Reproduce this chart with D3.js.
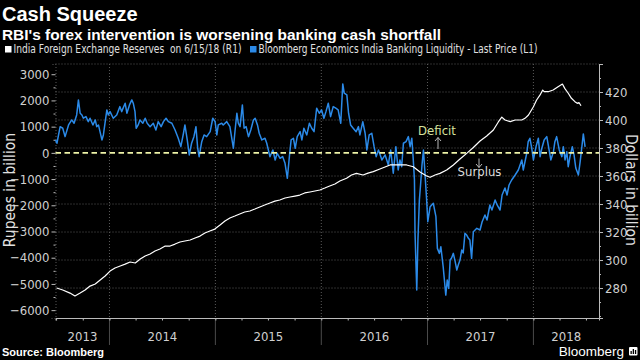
<!DOCTYPE html>
<html>
<head>
<meta charset="utf-8">
<script src="https://cdn.jsdelivr.net/npm/d3@7"></script>
<style>
  body { margin: 0; background: #000; }
  svg { display: block; }
</style>
</head>
<body>
<div id="chart"></div>
<script>

// India foreign exchange reserves, USD bn (right axis)
var reserves = [
  ["2013-07-03", 280.0], ["2013-07-24", 278.6], ["2013-08-18", 276.4], ["2013-09-04", 274.3],
  ["2013-09-22", 276.4], ["2013-10-09", 278.6], ["2013-10-26", 281.4], ["2013-11-13", 282.9],
  ["2013-11-30", 285.7], ["2013-12-17", 288.6], ["2014-01-03", 292.1], ["2014-01-20", 294.3],
  ["2014-02-07", 295.7], ["2014-02-24", 297.1], ["2014-03-13", 298.6], ["2014-03-31", 297.9],
  ["2014-04-17", 300.7], ["2014-05-04", 302.9], ["2014-05-21", 304.3], ["2014-06-07", 306.4],
  ["2014-06-24", 307.9], ["2014-07-12", 310.0], ["2014-07-29", 310.0], ["2014-08-15", 311.4],
  ["2014-09-01", 312.9], ["2014-09-18", 313.6], ["2014-10-06", 314.3], ["2014-10-23", 315.7],
  ["2014-11-09", 317.1], ["2014-11-26", 319.3], ["2014-12-13", 320.7], ["2014-12-30", 322.1],
  ["2015-01-17", 325.0], ["2015-02-03", 327.9], ["2015-02-20", 330.0], ["2015-03-09", 331.4],
  ["2015-03-26", 332.9], ["2015-04-12", 334.3], ["2015-04-30", 335.0], ["2015-05-17", 336.4],
  ["2015-06-03", 337.9], ["2015-06-20", 339.3], ["2015-07-08", 340.7], ["2015-07-25", 342.1],
  ["2015-08-11", 342.9], ["2015-08-29", 344.3], ["2015-09-15", 345.0], ["2015-10-02", 345.7],
  ["2015-10-19", 346.4], ["2015-11-05", 347.9], ["2015-11-23", 348.6], ["2015-12-10", 349.3],
  ["2015-12-27", 350.0], ["2016-01-13", 351.4], ["2016-01-30", 352.9], ["2016-02-17", 354.3],
  ["2016-03-05", 356.4], ["2016-03-28", 358.4], ["2016-04-14", 360.7], ["2016-05-01", 361.9],
  ["2016-05-24", 360.7], ["2016-06-10", 362.1], ["2016-06-28", 363.1], ["2016-07-21", 365.0],
  ["2016-08-25", 367.9], ["2016-09-28", 367.9], ["2016-10-21", 367.9], ["2016-11-13", 366.6],
  ["2016-12-06", 362.9], ["2016-12-29", 360.0], ["2017-01-10", 359.1], ["2017-01-27", 360.7],
  ["2017-02-13", 361.9], ["2017-03-08", 364.3], ["2017-03-31", 367.9], ["2017-04-23", 372.1],
  ["2017-05-16", 376.2], ["2017-06-08", 380.4], ["2017-07-01", 385.0], ["2017-07-24", 388.6],
  ["2017-08-16", 392.9], ["2017-09-02", 398.6], ["2017-09-14", 402.1], ["2017-09-25", 400.0],
  ["2017-10-13", 398.8], ["2017-10-30", 400.0], ["2017-11-22", 400.0], ["2017-12-03", 401.2],
  ["2017-12-15", 403.6], ["2018-01-01", 409.5], ["2018-01-12", 414.3], ["2018-01-24", 417.9],
  ["2018-02-02", 421.4], ["2018-02-07", 420.2], ["2018-02-21", 420.2], ["2018-03-10", 421.4],
  ["2018-03-27", 423.8], ["2018-04-11", 425.7], ["2018-04-19", 422.6], ["2018-05-01", 419.1],
  ["2018-05-12", 415.5], ["2018-05-24", 413.1], ["2018-06-01", 411.9], ["2018-06-07", 412.5],
  ["2018-06-14", 410.2]
];

// Bloomberg Economics India banking liquidity, INR bn (left axis)
var liquidity = [
  ["2013-06-29", 490], ["2013-07-04", 367], ["2013-07-15", 1000], ["2013-07-24", 939],
  ["2013-08-01", 619], ["2013-08-13", 1065], ["2013-08-24", 1256], ["2013-09-01", 1130],
  ["2013-09-10", 1447], ["2013-09-16", 2020], ["2013-09-22", 1512], ["2013-09-28", 1447],
  ["2013-10-03", 1321], ["2013-10-12", 1382], ["2013-10-20", 1191], ["2013-10-26", 1321],
  ["2013-11-05", 1065], ["2013-11-13", 1256], ["2013-11-18", 1000], ["2013-11-24", 1065],
  ["2013-12-06", 493], ["2013-12-11", 683], ["2013-12-23", 1638], ["2013-12-28", 1447],
  ["2014-01-03", 1573], ["2014-01-14", 1321], ["2014-01-26", 1447], ["2014-02-06", 1764],
  ["2014-02-12", 1573], ["2014-02-24", 1894], ["2014-03-02", 1512], ["2014-03-11", 1829],
  ["2014-03-19", 2020], ["2014-03-24", 1894], ["2014-03-30", 1573], ["2014-04-03", 939],
  ["2014-04-10", 1065], ["2014-04-16", 1256], ["2014-04-26", 1130], ["2014-05-04", 1321],
  ["2014-05-11", 1130], ["2014-05-21", 1000], ["2014-06-01", 1130], ["2014-06-10", 874],
  ["2014-06-18", 1191], ["2014-06-28", 1000], ["2014-07-06", 1191], ["2014-07-15", 1321],
  ["2014-07-23", 1191], ["2014-08-04", 1130], ["2014-08-15", 874], ["2014-08-26", 557],
  ["2014-09-04", 237], ["2014-09-13", 748], ["2014-09-18", 1065], ["2014-09-26", 493],
  ["2014-10-03", -80], ["2014-10-11", 367], ["2014-10-19", 619], ["2014-10-26", 1000],
  ["2014-11-01", 176], ["2014-11-06", -145], ["2014-11-15", 428], ["2014-11-23", 683],
  ["2014-12-02", 619], ["2014-12-14", 809], ["2014-12-23", 1321], ["2014-12-31", 1191],
  ["2015-01-06", 683], ["2015-01-11", 1065], ["2015-01-23", 1130], ["2015-01-28", 1065],
  ["2015-02-09", 1191], ["2015-02-20", 1000], ["2015-03-04", 176], ["2015-03-10", 874],
  ["2015-03-16", 1512], ["2015-03-21", 1130], ["2015-03-27", 1000], ["2015-04-04", 1829],
  ["2015-04-10", 939], ["2015-04-17", 1000], ["2015-04-25", 619], ["2015-05-03", 874],
  ["2015-05-12", 1256], ["2015-05-18", 1321], ["2015-05-26", 1065], ["2015-06-01", 748],
  ["2015-06-10", 493], ["2015-06-21", 557], ["2015-06-27", 367], ["2015-07-08", -145],
  ["2015-07-18", 111], ["2015-07-26", -271], ["2015-08-02", -15], ["2015-08-12", -206],
  ["2015-08-21", -145], ["2015-08-29", -397], ["2015-09-06", -970], ["2015-09-13", -145],
  ["2015-09-19", 493], ["2015-09-27", 557], ["2015-10-03", 176], ["2015-10-10", 619],
  ["2015-10-20", 809], ["2015-10-26", 493], ["2015-11-02", 939], ["2015-11-12", 683],
  ["2015-11-21", 1130], ["2015-11-29", 939], ["2015-12-07", 809], ["2015-12-16", 1703],
  ["2015-12-25", 1512], ["2016-01-02", 1638], ["2016-01-10", 1321], ["2016-01-17", 1573],
  ["2016-01-25", 1894], ["2016-02-02", 1382], ["2016-02-11", 1764], ["2016-02-20", 1703],
  ["2016-02-28", 1638], ["2016-03-08", 1130], ["2016-03-15", 2631], ["2016-03-20", 2276],
  ["2016-03-29", 2211], ["2016-04-04", 1512], ["2016-04-11", 1065], ["2016-04-20", 939],
  ["2016-04-30", 809], ["2016-05-08", 1000], ["2016-05-13", 683], ["2016-05-23", 1191],
  ["2016-05-31", 748], ["2016-06-06", 111], ["2016-06-14", 683], ["2016-06-23", 748],
  ["2016-07-01", 237], ["2016-07-08", -145], ["2016-07-16", 111], ["2016-07-28", -271],
  ["2016-08-08", -80], ["2016-08-19", -462], ["2016-08-27", 111], ["2016-09-05", -779],
  ["2016-09-14", 237], ["2016-09-22", -653], ["2016-09-28", -271], ["2016-10-04", -527],
  ["2016-10-10", 367], ["2016-10-19", 428], ["2016-10-27", 619], ["2016-11-02", 237],
  ["2016-11-08", 557], ["2016-11-13", -271], ["2016-11-17", -1035], ["2016-11-19", -3058],
  ["2016-11-25", -5235], ["2016-11-29", -3326], ["2016-12-04", -1798], ["2016-12-08", -1226],
  ["2016-12-13", -462], ["2016-12-18", 111], ["2016-12-23", -729], ["2016-12-29", -1798],
  ["2017-01-02", -2627], ["2017-01-10", -2054], ["2017-01-21", -1924], ["2017-01-30", -2436],
  ["2017-02-04", -3643], ["2017-02-11", -3834], ["2017-02-16", -3582], ["2017-02-24", -4345],
  ["2017-03-05", -5426], ["2017-03-10", -4853], ["2017-03-15", -5170], ["2017-03-20", -4089],
  ["2017-03-25", -4013], ["2017-03-31", -3834], ["2017-04-06", -4128], ["2017-04-12", -4471],
  ["2017-04-17", -4280], ["2017-04-23", -4089], ["2017-04-29", -3708], ["2017-05-04", -3822],
  ["2017-05-10", -3070], ["2017-05-16", -3135], ["2017-05-22", -3261], ["2017-05-27", -3326],
  ["2017-06-02", -4025], ["2017-06-08", -3009], ["2017-06-20", -2879], ["2017-07-01", -2944],
  ["2017-07-08", -2638], ["2017-07-18", -2371], ["2017-07-25", -2562], ["2017-08-04", -1989],
  ["2017-08-11", -2180], ["2017-08-22", -1798], ["2017-08-29", -1989], ["2017-09-08", -2180],
  ["2017-09-15", -1607], ["2017-09-25", -1340], ["2017-10-02", -1607], ["2017-10-09", -1226],
  ["2017-10-18", -1035], ["2017-10-30", -844], ["2017-11-10", -653], ["2017-11-22", -271],
  ["2017-11-27", -653], ["2017-12-09", -15], ["2017-12-14", 428], ["2017-12-20", 557],
  ["2017-12-26", 187], ["2018-01-01", -271], ["2018-01-10", 237], ["2018-01-18", 557],
  ["2018-01-24", -145], ["2018-01-30", 176], ["2018-02-07", 493], ["2018-02-16", 619],
  ["2018-02-21", 302], ["2018-03-02", -271], ["2018-03-11", 46], ["2018-03-16", 428],
  ["2018-03-22", 619], ["2018-03-31", 111], ["2018-04-09", -145], ["2018-04-14", 237],
  ["2018-04-20", -271], ["2018-04-26", 46], ["2018-05-01", -527], ["2018-05-07", -145],
  ["2018-05-15", 237], ["2018-05-21", -80], ["2018-05-27", -577], ["2018-06-05", -844],
  ["2018-06-11", -347], ["2018-06-17", 237], ["2018-06-22", 722], ["2018-06-28", 225]
];

var leftTicks = [3000, 2000, 1000, 0, -1000, -2000, -3000, -4000, -5000, -6000];
var leftMinor = [2500, 1500, 500, -500, -1500, -2500, -3500, -4500, -5500];
var rightTicks = [280, 300, 320, 340, 360, 380, 400, 420];
var rightMinor = [260, 270, 290, 310, 330, 350, 370, 390, 410, 430, 440];
var years = ["2013", "2014", "2015", "2016", "2017", "2018"];

var W = 640, H = 360;
var plot = {left: 55.5, right: 599, top: 64, bottom: 318};
var FONT = '"Liberation Sans Narrow", "DejaVu Sans Condensed", sans-serif';

var parse = d3.timeParse("%Y-%m-%d");
reserves.forEach(function(d) { d.date = parse(d[0]); d.value = +d[1]; });
liquidity.forEach(function(d) { d.date = parse(d[0]); d.value = +d[1]; });

// scales
var x = d3.scaleTime()
    .domain([parse("2013-06-29"), parse("2018-08-15")])
    .range([plot.left, plot.right]);
var yL = d3.scaleLinear().domain([-6300, 3390]).range([plot.bottom, plot.top]);
var yR = d3.scaleLinear().domain([258.6, 440]).range([plot.bottom, plot.top]);

var svg = d3.select("#chart").append("svg")
    .attr("width", W)
    .attr("height", H)
    .style("background", "#000");

// titles
svg.append("text")
    .attr("x", 2).attr("y", 21)
    .style("font-family", '"Liberation Sans", Arial, sans-serif')
    .style("font-size", "20px").style("font-weight", "700")
    .attr("fill", "#fff")
    .text("Cash Squeeze");

svg.append("text")
    .attr("x", 2).attr("y", 40)
    .style("font-family", '"Liberation Sans", Arial, sans-serif')
    .style("font-size", "15.4px").style("font-weight", "700")
    .attr("fill", "#fff")
    .text("RBI's forex intervention is worsening banking cash shortfall");

// legend
var legend = [
  {label: "India Foreign Exchange Reserves  on 6/15/18 (R1)", color: "#fff", x: 5, w: 228},
  {label: "Bloomberg Economics India Banking Liquidity - Last Price (L1)", color: "#2b8ae8", x: 250, w: 279}
];
var lg = svg.selectAll(".legend").data(legend).enter().append("g")
    .attr("class", "legend")
    .attr("transform", function(d) { return "translate(" + d.x + ",0)"; });
lg.append("rect")
    .attr("x", 0).attr("y", 46).attr("width", 6.5).attr("height", 6.5)
    .attr("fill", function(d) { return d.color; });
lg.append("text")
    .attr("x", 8.5).attr("y", 53)
    .attr("textLength", function(d) { return d.w; })
    .attr("lengthAdjust", "spacingAndGlyphs")
    .style("font-family", FONT).style("font-size", "11.5px")
    .style("white-space", "pre")
    .attr("fill", "#e0e0e0")
    .text(function(d) { return d.label; });

// horizontal gridlines (follow right axis)
svg.append("g").selectAll("line")
    .data(rightTicks.concat([440]))
    .enter().append("line")
    .attr("x1", plot.left).attr("x2", plot.right)
    .attr("y1", function(d) { return yR(d); })
    .attr("y2", function(d) { return yR(d); })
    .attr("stroke", "#5a5a5a").attr("stroke-width", 1)
    .attr("stroke-dasharray", "1,2");

// year boundaries: dotted inside plot, solid below the axis
var yearStarts = [2014, 2015, 2016, 2017, 2018].map(function(y) { return new Date(y, 0, 1); });
svg.append("g").selectAll("line")
    .data(yearStarts)
    .enter().append("line")
    .attr("x1", function(d) { return x(d); }).attr("x2", function(d) { return x(d); })
    .attr("y1", plot.top).attr("y2", plot.bottom)
    .attr("stroke", "#5a5a5a").attr("stroke-dasharray", "1,2");
svg.append("g").selectAll("line")
    .data(yearStarts)
    .enter().append("line")
    .attr("x1", function(d) { return x(d); }).attr("x2", function(d) { return x(d); })
    .attr("y1", plot.bottom).attr("y2", 345)
    .attr("stroke", "#4a4a4a");

// left axis
var leftAxis = svg.append("g")
    .attr("transform", "translate(" + plot.left + ",0)")
    .call(d3.axisLeft(yL).tickValues(leftTicks).tickSize(4).tickPadding(2).tickFormat(d3.format("d")));
svg.append("g")
    .attr("transform", "translate(" + plot.left + ",0)")
    .call(d3.axisLeft(yL).tickValues(leftMinor).tickSize(2).tickFormat(""))
    .select(".domain").remove();
leftAxis.select(".domain").attr("stroke", "#5a5a5a").attr("stroke-dasharray", "1,2");

// right axis
var rightAxis = svg.append("g")
    .attr("transform", "translate(" + plot.right + ",0)")
    .call(d3.axisRight(yR).tickValues(rightTicks).tickSize(4).tickPadding(2).tickFormat(d3.format("d")));
svg.append("g")
    .attr("transform", "translate(" + plot.right + ",0)")
    .call(d3.axisRight(yR).tickValues(rightMinor).tickSize(2).tickFormat(""))
    .select(".domain").remove();
rightAxis.select(".domain").attr("stroke", "#bbb");

// bottom axis with quarterly ticks
var bottomAxis = svg.append("g")
    .attr("transform", "translate(0," + plot.bottom + ")")
    .call(d3.axisBottom(x).ticks(d3.timeMonth.every(3)).tickSize(2.5).tickFormat(""));
bottomAxis.select(".domain").attr("stroke", "#bbb");

svg.selectAll(".tick line").attr("stroke", "#bbb");
svg.selectAll(".tick text")
    .style("font-family", FONT).style("font-size", "13px")
    .attr("fill", "#d0d0d0");

// year labels centred in the visible part of each year
svg.append("g").selectAll("text")
    .data(years)
    .enter().append("text")
    .attr("x", function(d) {
      var a = Math.max(x(new Date(+d, 0, 1)), plot.left);
      var b = Math.min(x(new Date(+d + 1, 0, 1)), plot.right);
      return (a + b) / 2;
    })
    .attr("y", 341)
    .attr("text-anchor", "middle")
    .style("font-family", FONT).style("font-size", "13px")
    .attr("fill", "#d0d0d0")
    .text(function(d) { return d; });

// axis titles
svg.append("text")
    .attr("transform", "translate(15,190) rotate(-90)")
    .attr("text-anchor", "middle")
    .style("font-family", FONT).style("font-size", "15.5px")
    .attr("fill", "#e0e0e0")
    .text("Rupees in billion");
svg.append("text")
    .attr("transform", "translate(626,190) rotate(90)")
    .attr("text-anchor", "middle")
    .style("font-family", FONT).style("font-size", "15.5px")
    .attr("fill", "#e0e0e0")
    .text("Dollars in billion");

// lines
var lineL = d3.line()
    .x(function(d) { return x(d.date); })
    .y(function(d) { return yL(d.value); });
var lineR = d3.line()
    .x(function(d) { return x(d.date); })
    .y(function(d) { return yR(d.value); });

svg.append("path")
    .datum(liquidity)
    .attr("d", lineL)
    .attr("fill", "none")
    .attr("stroke", "#2b8ae8")
    .attr("stroke-width", 1.5)
    .attr("stroke-linejoin", "round");

svg.append("path")
    .datum(reserves)
    .attr("d", lineR)
    .attr("fill", "none")
    .attr("stroke", "#fff")
    .attr("stroke-width", 1.2)
    .attr("stroke-linejoin", "round");

// zero line on the left axis
svg.append("line")
    .attr("x1", plot.left).attr("x2", plot.right)
    .attr("y1", yL(0)).attr("y2", yL(0))
    .attr("stroke", "#eef3a8").attr("stroke-width", 1.8)
    .attr("stroke-dasharray", "5.5,3.5");

// Deficit / Surplus annotations
svg.append("text")
    .attr("x", 437).attr("y", 135)
    .attr("text-anchor", "middle")
    .style("font-family", FONT).style("font-size", "13px")
    .attr("fill", "#d6e29e")
    .text("Deficit");
svg.append("path")
    .attr("d", "M438,149V137.5M435,141L438,137.5L441,141")
    .attr("fill", "none").attr("stroke", "#ccc").attr("stroke-width", 0.9);

svg.append("text")
    .attr("x", 479.5).attr("y", 176)
    .attr("text-anchor", "middle")
    .style("font-family", FONT).style("font-size", "13px")
    .attr("fill", "#ddd")
    .text("Surplus");
svg.append("path")
    .attr("d", "M479,158.5V167.5M476,164L479,167.5L482,164")
    .attr("fill", "none").attr("stroke", "#ccc").attr("stroke-width", 0.9);

// footer
svg.append("text")
    .attr("x", 2).attr("y", 356)
    .style("font-family", '"Liberation Sans", Arial, sans-serif')
    .style("font-size", "11px").style("font-weight", "700")
    .attr("fill", "#fff")
    .text("Source: Bloomberg");

svg.append("text")
    .attr("x", 624).attr("y", 356)
    .attr("text-anchor", "end")
    .style("font-family", '"Liberation Sans", Arial, sans-serif')
    .style("font-size", "13.5px")
    .attr("fill", "#fff")
    .text("Bloomberg");

var logo = svg.append("g").attr("transform", "translate(629,347)");
logo.append("rect").attr("width", 8.5).attr("height", 8.5).attr("rx", 1).attr("fill", "#fff");
logo.selectAll(".bar").data([[1.5, 4], [3.7, 2], [5.9, 3]]).enter().append("rect")
    .attr("x", function(d) { return d[0]; })
    .attr("y", function(d) { return d[1]; })
    .attr("width", 1.3)
    .attr("height", function(d) { return 7 - d[1]; })
    .attr("fill", "#000");

</script>
</body>
</html>
